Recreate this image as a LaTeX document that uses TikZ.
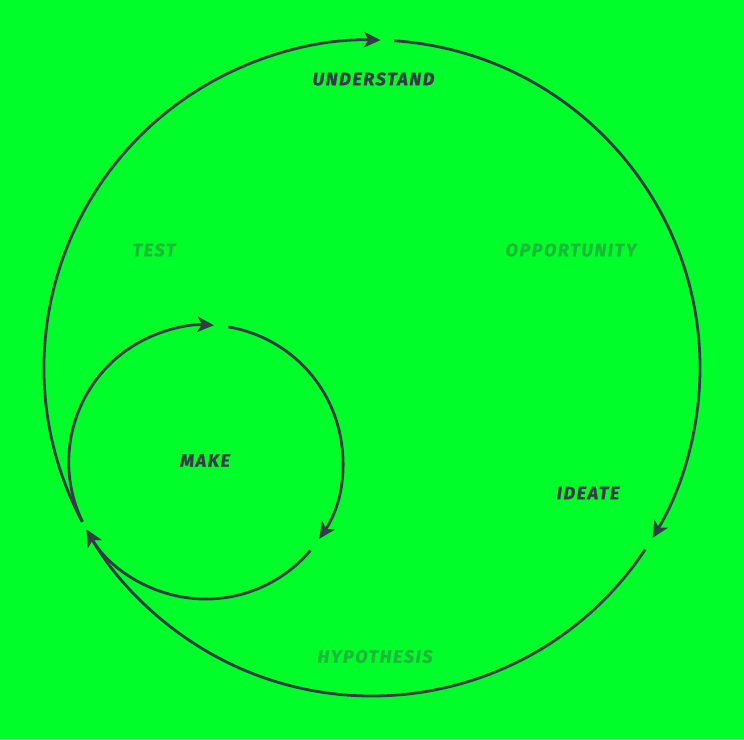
\documentclass[tikz,border=0pt]{standalone}
\usepackage{fontspec}
\setmainfont{Fira Sans}
\usetikzlibrary{arrows.meta,calc}
\definecolor{bg}{RGB}{0,255,42}
\definecolor{ink}{RGB}{56,57,70}
\definecolor{faded}{RGB}{28,184,56}
\begin{document}
\begin{tikzpicture}[x=1pt,y=1pt,
  loop/.style={draw=ink, line width=2.8pt, -{Stealth[length=16.5pt,width=15.5pt,inset=4.5pt]}},
  lbl/.style={font=\fontsize{18}{18}\selectfont\bfseries\itshape\addfontfeatures{LetterSpace=9,FakeBold=1.2}, text=ink, inner sep=0pt, anchor=center},
  dim/.style={lbl, text=faded}]
\fill[bg] (0,0) rectangle (744,739);
\useasboundingbox (0,0) rectangle (744,739);
\def\Rb{328}
\def\Rs{137}
\def\Tang{209.5}
\coordinate (C1) at (372,371);
\coordinate (C2) at ($(C1)+(\Tang:191)$);
\coordinate (T) at ($(C1)+(\Tang:\Rb)$);
% big circle starting points
\coordinate (b1) at ($(C1)+(208:\Rb)$);
\coordinate (b2) at ($(C1)+(86.1:\Rb)$);
\coordinate (b3) at ($(C1)+(-33.6:\Rb)$);
% small circle starting points
\coordinate (s1) at ($(C2)+(205.8:\Rs)$);
\coordinate (s2) at ($(C2)+(80.5:\Rs)$);
\coordinate (s3) at ($(C2)+(-40.2:\Rs)$);
% big circle arcs
\draw[loop] (b1) arc[start angle=208, end angle=88.5, radius=\Rb];
\draw[loop] (b2) arc[start angle=86.1, end angle=-31.2, radius=\Rb];
\draw[loop] (b3) arc[start angle=-33.6, end angle=-150.5, radius=\Rb];
% small circle arcs
\draw[loop] (s1) arc[start angle=205.8, end angle=86.6, radius=\Rs];
\draw[loop] (s2) arc[start angle=80.5, end angle=-34.1, radius=\Rs];
\draw[loop] (s3) arc[start angle=-40.2, end angle=-150.5, radius=\Rs];
% labels
\node[lbl] (understand) at (373.5,660) {UNDERSTAND};
\node[lbl] (make) at (205,278.5) {MAKE};
\node[lbl] (ideate) at (588,246) {IDEATE};
\node[dim] (test) at (154,489) {TEST};
\node[dim] (opportunity) at (571,489) {OPPORTUNITY};
\node[dim] (hypothesis) at (375,82.5) {HYPOTHESIS};
\end{tikzpicture}
\end{document}
